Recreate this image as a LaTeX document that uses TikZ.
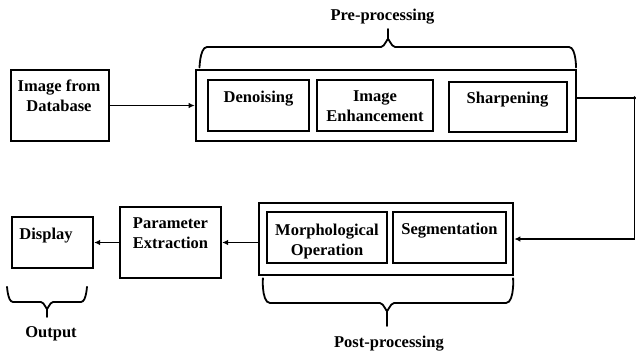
\documentclass[tikz,border=0pt]{standalone}
\usepackage{fontspec}
\setmainfont{Liberation Serif}
\usetikzlibrary{arrows.meta,calc}
\begin{document}
\begin{tikzpicture}[x=1pt,y=-1pt,
  box/.style={draw,line width=2.2pt,rectangle,inner sep=0pt},
  outer/.style={draw,line width=2.6pt,rectangle,inner sep=0pt},
  txt/.style={font=\bfseries\fontsize{16.5}{20.5}\selectfont,inner sep=0pt,align=center,anchor=base},
  conn/.style={line width=1.7pt},
  arr/.style={line width=1.7pt,-{Latex[length=6pt,width=5.5pt]}},
  brace/.style={line width=1.8pt,line cap=round,line join=round}]
\useasboundingbox (0,0) rectangle (636,353);

% boxes
\node[box,minimum width=98pt,minimum height=71pt] (db) at (60,105.5) {};
\node[outer,minimum width=380pt,minimum height=71pt] (pre) at (386,105.5) {};
\node[box,minimum width=101pt,minimum height=51pt] (den) at (258.5,105.5) {};
\node[box,minimum width=116pt,minimum height=51pt] (enh) at (375,105.5) {};
\node[box,minimum width=118pt,minimum height=50pt] (sharp) at (508,107) {};
\node[outer,minimum width=254pt,minimum height=72pt] (post) at (386,239) {};
\node[box,minimum width=120pt,minimum height=51pt] (morph) at (327,237.5) {};
\node[box,minimum width=113pt,minimum height=51pt] (seg) at (449.5,237.5) {};
\node[box,minimum width=101pt,minimum height=71pt] (param) at (170.5,242.5) {};
\node[box,minimum width=81pt,minimum height=51pt] (disp) at (52.5,242.5) {};

% texts (base = baseline of last line)
\node[txt] (dbt) at (59,111.5) {Image from\\Database};
\node[txt] (dent) at (258.5,102) {Denoising};
\node[txt] (enht) at (375,121.5) {Image\\Enhancement};
\node[txt] (sharpt) at (507.5,103) {Sharpening};
\node[txt] (morpht) at (327,255.5) {Morphological\\Operation};
\node[txt] (segt) at (449.5,234) {Segmentation};
\node[txt] (paramt) at (170.5,248.5) {Parameter\\Extraction};
\node[txt] (dispt) at (46,239) {Display};
\node[txt] (pret) at (382.5,21) {Pre-processing};
\node[txt] (postt) at (389,347) {Post-processing};
\node[txt] (outt) at (51,337) {Output};

% connectors
\coordinate (c1) at (634.5,98);
\coordinate (c2) at (634.5,239);
\draw[arr] (db.east) -- (pre.west);
\draw[conn] (pre.east |- c1) -- (c1) -- (c2);
\fill (c1) circle (1.8pt);
\draw[arr] (c2) -- (post.east |- c2);
\draw[arr] (post.west |- param.east) -- (param.east);
\draw[arr] (param.west) -- (disp.east);

% braces
\draw[brace] (199.5,66) to[out=-90,in=180] (207,47) -- (381,47)
  to[out=0,in=90] (388,40) -- (388,29);
\draw[brace] (388,40) to[out=90,in=180] (395,47) -- (569,47)
  to[out=0,in=-90] (576,66);
\draw[brace] (263,280) to[out=90,in=180] (270,303) -- (380,303)
  to[out=0,in=-90] (387,310) -- (387,326);
\draw[brace] (387,310) to[out=-90,in=180] (394,303) -- (506,303)
  to[out=0,in=90] (513,280);
\draw[brace] (7,288) to[out=90,in=180] (13,302) -- (41,302)
  to[out=0,in=-90] (47,308) -- (47,317);
\draw[brace] (47,308) to[out=-90,in=180] (53,302) -- (81,302)
  to[out=0,in=90] (87,288);
\end{tikzpicture}
\end{document}
